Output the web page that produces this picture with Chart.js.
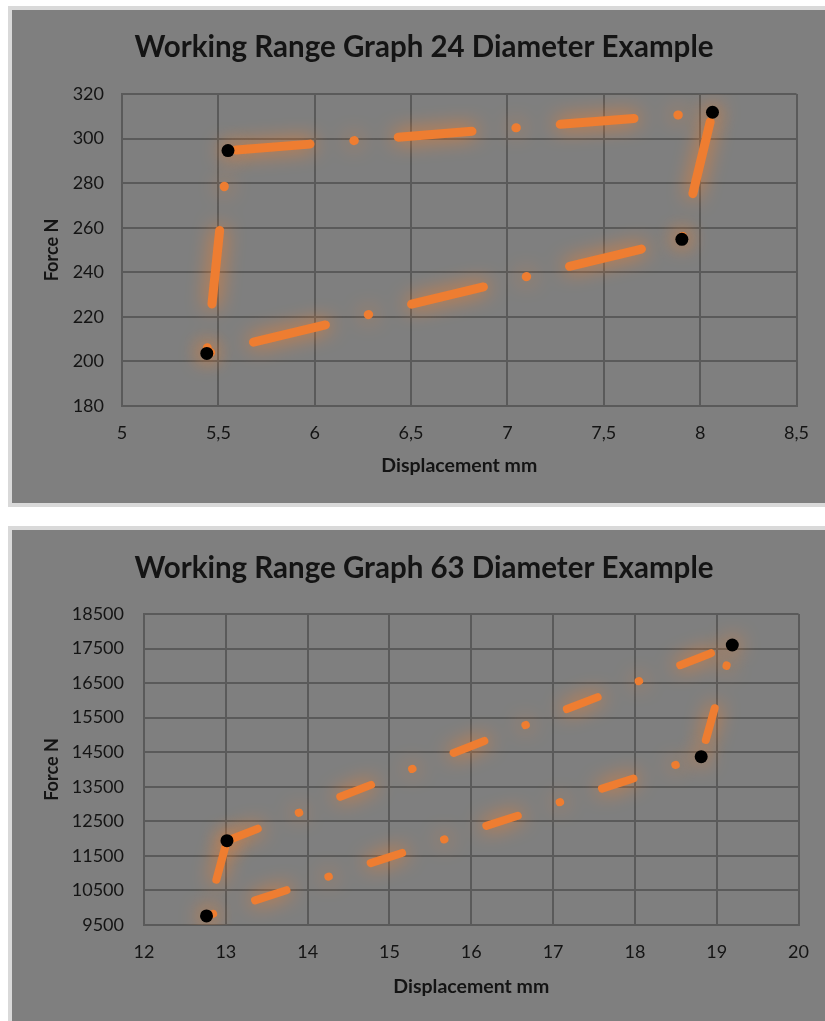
<!DOCTYPE html>
<html>
<head>
<meta charset="utf-8">
<script src="https://cdn.jsdelivr.net/npm/chart.js@4/dist/chart.umd.min.js"></script>
<style>
  html, body { margin: 0; overflow: hidden; }
  body { background: #ffffff; width: 825px; height: 1021px; position: relative; }
  .panel { position: absolute; background: #7f7f7f; border: 4px solid #d9d9d9; box-sizing: border-box; }
  canvas { position: absolute; }
</style>
</head>
<body>
<div class="panel" style="left:8px; top:6px; width:830px; height:501px;"></div>
<div class="panel" style="left:8px; top:526px; width:830px; height:510px;"></div>
<canvas id="chart24" width="813" height="493" style="left:12px; top:10px;"></canvas>
<canvas id="chart63" width="813" height="491" style="left:12px; top:530px;"></canvas>
<script>
// 24 diameter: corners of the working range loop (displacement mm, force N)
const disp24 = [5.44, 7.905, 8.064, 5.55, 5.44];
const force24 = [203.6, 254.8, 311.8, 294.6, 203.6];
const xTicks24 = [5, 8.5, 0.5];      // min, max, step
const yTicks24 = [180, 320, 20];

// 63 diameter
const disp63 = [13.014, 19.19, 18.81, 12.764, 13.014];
const force63 = [11941, 17603, 14371, 9762, 11941];
const xTicks63 = [12, 20, 1];
const yTicks63 = [9500, 18500, 1000];

const orange = '#EE7D31';
const gridColor = '#5a5a5a';
const textColor = '#141414';
const fontFamily = 'Lato, "Open Sans", sans-serif';

const glow = {
    id: 'glow',
    beforeDatasetDraw(chart) {
        const ctx = chart.ctx;
        ctx.save();
        ctx.shadowColor = 'rgba(240,128,48,1)';
        ctx.shadowBlur = 20;
    },
    afterDatasetDraw(chart) {
        chart.ctx.restore();
    }
};

function toPoints(xs, ys) {
    return xs.map((x, i) => ({ x: x, y: ys[i] }));
}

function makeChart(id, title, xs, ys, xt, yt, opt) {
    const ctx = document.getElementById(id).getContext('2d');
    return new Chart(ctx, {
        type: 'scatter',
        data: {
            datasets: [{
                data: toPoints(xs, ys),
                showLine: true,
                borderColor: orange,
                borderWidth: opt.lineWidth,
                borderDash: opt.dash,
                borderDashOffset: opt.dashOffset,
                borderCapStyle: 'round',
                borderJoinStyle: 'round',
                pointRadius: 0,
                order: 1
            }, {
                data: toPoints(xs.slice(0, 4), ys.slice(0, 4)),
                showLine: false,
                backgroundColor: '#000000',
                borderWidth: 0,
                pointRadius: 6.5,
                order: 0
            }]
        },
        options: {
            responsive: false,
            animation: false,
            devicePixelRatio: 1,
            layout: { padding: { left: 11, right: 0, top: 0, bottom: 0 } },
            plugins: {
                legend: { display: false },
                tooltip: { enabled: false },
                title: {
                    display: true,
                    text: title,
                    color: textColor,
                    font: { family: fontFamily, size: 29.5, weight: 'bold', lineHeight: 1.2 },
                    padding: { top: opt.titleTop, bottom: 84 - 35.4 - opt.titleTop }
                }
            },
            scales: {
                x: {
                    type: 'linear',
                    min: xt[0], max: xt[1],
                    afterFit: s => { s.height = opt.xHeight; },
                    ticks: {
                        stepSize: xt[2],
                        padding: 16,
                        color: textColor,
                        font: { family: fontFamily, size: 18 },
                        callback: v => String(v).replace('.', ',')
                    },
                    grid: { color: gridColor, lineWidth: 2, drawTicks: false },
                    border: { color: gridColor, width: 2 },
                    title: {
                        display: true,
                        text: 'Displacement mm',
                        color: textColor,
                        font: { family: fontFamily, size: 19.5, weight: 'bold', lineHeight: 1.2 },
                        padding: { top: 0, bottom: opt.xTitleBottom }
                    }
                },
                y: {
                    type: 'linear',
                    min: yt[0], max: yt[1],
                    afterFit: s => { s.width = opt.yWidth; },
                    ticks: {
                        stepSize: yt[2],
                        padding: opt.yPad,
                        color: textColor,
                        font: { family: fontFamily, size: 18 },
                        callback: v => String(v)
                    },
                    grid: { color: gridColor, lineWidth: 2, drawTicks: false },
                    border: { color: gridColor, width: 2 },
                    title: {
                        display: true,
                        text: 'Force N',
                        color: textColor,
                        font: { family: fontFamily, size: 18, weight: 'bold', lineHeight: 1.2 },
                        padding: { top: 18, bottom: 0 }
                    }
                },
                // empty right-hand axis, only reserves the margin right of the plot
                yRight: {
                    type: 'linear',
                    position: 'right',
                    min: yt[0], max: yt[1],
                    afterFit: s => { s.width = opt.padRight; },
                    ticks: { display: false },
                    grid: { display: false, drawTicks: false },
                    border: { display: false }
                }
            }
        },
        plugins: [glow]
    });
}

makeChart('chart24', 'Working Range Graph 24 Diameter Example', disp24, force24, xTicks24, yTicks24,
    { lineWidth: 9, dash: [74, 44, 0.5, 44], dashOffset: 114.5, padRight: 25, xHeight: 97, yWidth: 99, yPad: 18,
      titleTop: 19.3, xTitleBottom: 25.3 });

makeChart('chart63', 'Working Range Graph 63 Diameter Example', disp63, force63, xTicks63, yTicks63,
    { lineWidth: 8, dash: [33, 44, 0.5, 44], dashOffset: 0, padRight: 22.3, xHeight: 96, yWidth: 121, yPad: 20,
      titleTop: 20.3, xTitleBottom: 22.7 });
</script>
</body>
</html>
